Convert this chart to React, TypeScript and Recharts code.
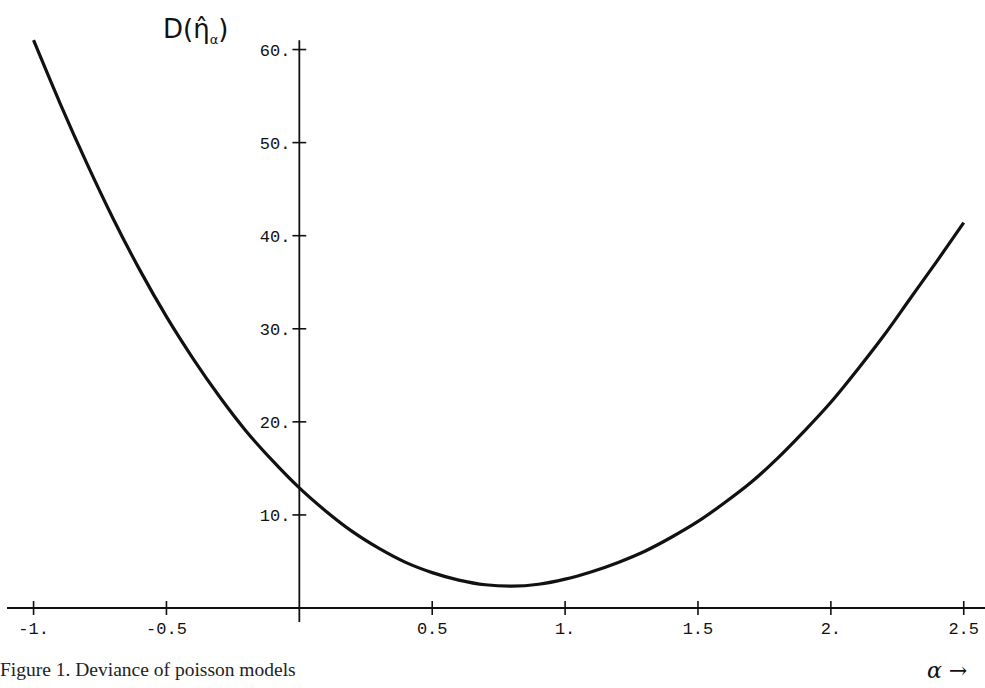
import { LineChart, Line, XAxis, YAxis, ReferenceLine } from 'recharts'

// alpha values and the deviance
const ALPHA = [
  -1, -0.9, -0.8, -0.7, -0.6, -0.5, -0.4, -0.3, -0.2, -0.1,
  0, 0.1, 0.2, 0.3, 0.4, 0.5, 0.6, 0.7, 0.8, 0.9,
  1, 1.1, 1.2, 1.3, 1.4, 1.5, 1.6, 1.7, 1.8, 1.9,
  2, 2.1, 2.2, 2.3, 2.4, 2.5,
]
const DEVIANCE = [
  61.0, 54.2, 47.8, 41.8, 36.3, 31.3, 26.8, 22.7, 19.0, 15.8,
  12.9, 10.4, 8.2, 6.4, 4.9, 3.8, 3.0, 2.5, 2.35, 2.55,
  3.1, 3.9, 4.9, 6.1, 7.6, 9.3, 11.3, 13.5, 16.1, 19.0,
  22.1, 25.6, 29.3, 33.3, 37.3, 41.4,
]

const X_TICKS = [-1, -0.5, 0.5, 1, 1.5, 2, 2.5]
const X_TICK_LABELS = ['-1.', '-0.5', '0.5', '1.', '1.5', '2.', '2.5']
const Y_TICKS = [10, 20, 30, 40, 50, 60]
const Y_TICK_LABELS = ['10.', '20.', '30.', '40.', '50.', '60.']

const INK = '#111'
const MONO = '"Liberation Mono", "DejaVu Sans Mono", monospace'

const data = ALPHA.map((a, i) => ({ alpha: a, deviance: DEVIANCE[i] }))

function XTick({ x, y, payload }: any) {
  const label = X_TICK_LABELS[X_TICKS.indexOf(payload.value)]
  return (
    <g>
      <line x1={x} x2={x} y1={y - 7} y2={y + 7} stroke={INK} strokeWidth={1.6} />
      <text x={x} y={y + 26} textAnchor="middle" fontFamily={MONO} fontSize={17} fill={INK}>{label}</text>
    </g>
  )
}

export default function App() {
  return (
    <div style={{ position: 'absolute', left: 0, top: 0, width: 985, height: 688, background: '#fff' }}>
      <LineChart width={985} height={688} data={data} margin={{ top: 3, right: 0, bottom: 0, left: 7 }}>
        <XAxis dataKey="alpha" type="number" domain={[-1.1, 2.58]} allowDataOverflow ticks={X_TICKS}
          height={80} tickSize={0} tickMargin={0} tickLine={false} tick={<XTick />}
          axisLine={{ stroke: INK, strokeWidth: 1.8 }} />
        <YAxis type="number" domain={[0, 65]} allowDataOverflow hide width={0} />

        {/* vertical axis through alpha = 0 */}
        <ReferenceLine segment={[{ x: 0, y: -1.5 }, { x: 0, y: 61 }]} stroke={INK} strokeWidth={1.8} ifOverflow="visible" />
        {Y_TICKS.map((v, i) => (
          <ReferenceLine key={v} segment={[{ x: -0.026, y: v }, { x: 0.026, y: v }]} stroke={INK} strokeWidth={1.6}
            ifOverflow="visible"
            label={{ value: Y_TICK_LABELS[i], position: 'left', offset: 2, fill: INK, fontSize: 17, fontFamily: MONO }} />
        ))}

        <Line dataKey="deviance" type="monotone" stroke={INK} strokeWidth={3.2} dot={false} activeDot={false}
          isAnimationActive={false} />
      </LineChart>

      <div style={{ position: 'absolute', left: 163, top: 14, fontFamily: '"DejaVu Sans", sans-serif', fontSize: 26, color: INK, whiteSpace: 'nowrap' }}>
        D(η̂<sub style={{ fontSize: 13 }}>α</sub>)
      </div>
      <div style={{ position: 'absolute', left: 0, top: 660, fontFamily: '"Liberation Serif", serif', fontSize: 19.5, lineHeight: '19.5px', color: '#222', whiteSpace: 'nowrap' }}>
        Figure 1. Deviance of poisson models
      </div>
      <div style={{ position: 'absolute', left: 927, top: 660, fontFamily: '"DejaVu Serif", serif', fontStyle: 'italic', fontSize: 22, lineHeight: '22px', color: INK, whiteSpace: 'nowrap' }}>
        α →
      </div>
    </div>
  )
}
